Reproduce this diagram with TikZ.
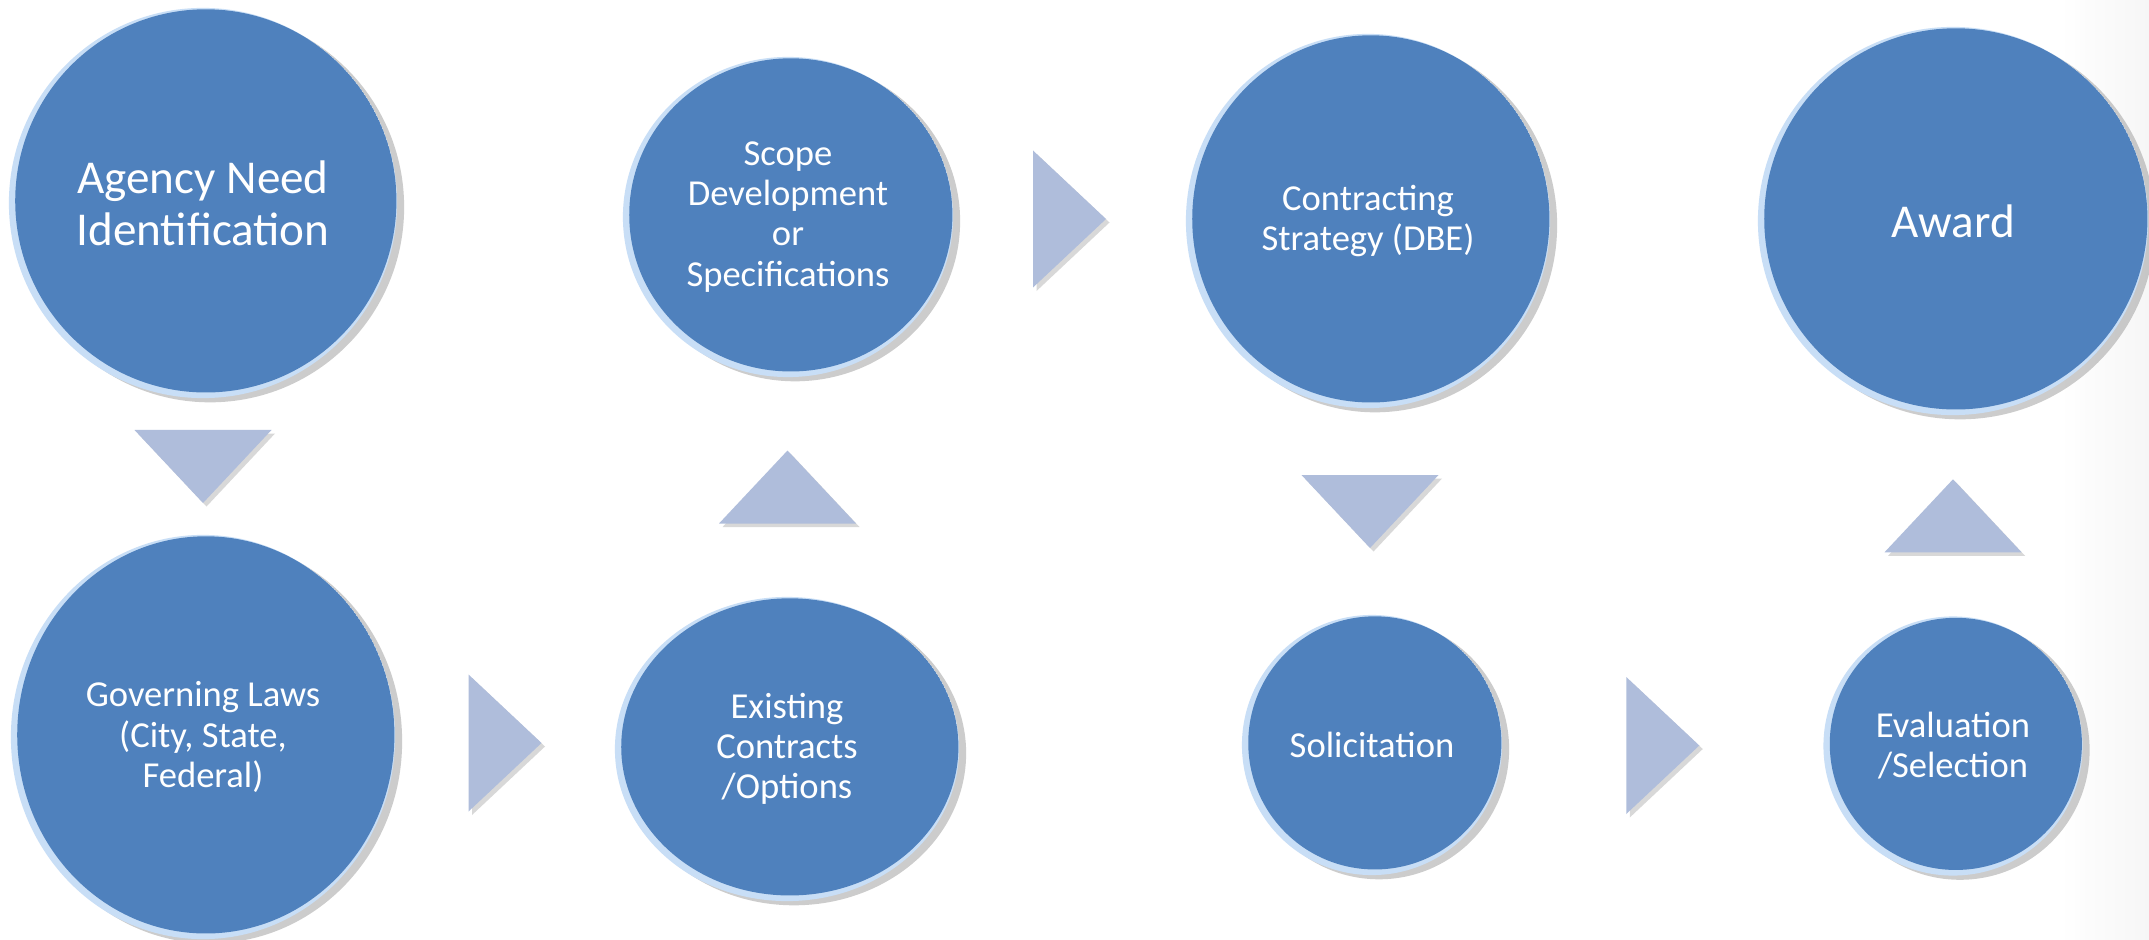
\documentclass[tikz,border=0pt]{standalone}
\usepackage{fontspec}
\setmainfont{Carlito}
\usetikzlibrary{shapes.geometric,shadows,calc}
\definecolor{stepblue}{RGB}{79,129,189}
\definecolor{rimblue}{RGB}{200,222,246}
\definecolor{arrowgray}{RGB}{175,189,219}

\tikzset{
  stage/.style={ellipse, inner sep=0pt, fill=rimblue, text=white, align=center,
    drop shadow={shadow xshift=2pt, shadow yshift=-1.2pt, opacity=.4},
    path picture={\fill[stepblue] let \p1=(path picture bounding box.south west),
      \p2=(path picture bounding box.north east) in
      ($(\p1)!.5!(\p2)+(.8pt,.6pt)$) ellipse ({(\x2-\x1)/2-1pt} and {(\y2-\y1)/2-1pt});}},
  small/.style={font=\fontsize{10.4}{11.4}\selectfont},
  big/.style={font=\fontsize{13.4}{14.8}\selectfont},
  pics/arrowtip/.style={code={
    \fill[arrowgray, drop shadow={shadow xshift=1pt, shadow yshift=-1pt, opacity=.3}]
      (-36.5,-68.5) -- (36.5,0) -- (-36.5,68.5) -- cycle;}}
}

\begin{document}
\begin{tikzpicture}[x=0.01cm,y=-0.01cm]
\useasboundingbox (0,0) rectangle (2149,940);
\fill[white] (0,0) rectangle (2149,940);
\shade[left color=white, right color=gray!7] (2060,0) rectangle (2149,940);

% stages
\node[stage, big, minimum width=3.88cm, minimum height=3.90cm] (agency) at (203,203) {Agency Need\\Identification};
\node[stage, small, minimum width=3.84cm, minimum height=4.04cm] (laws) at (203,737) {Governing Laws\\(City, State,\\Federal)};
\node[stage, small, minimum width=3.44cm, minimum height=3.04cm] (existing) at (787,749) {Existing\\Contracts\\/Options};
\node[stage, small, minimum width=3.30cm, minimum height=3.20cm] (scope) at (788,217) {Scope\\Development\\or\\Specifications};
\node[stage, small, minimum width=3.64cm, minimum height=3.74cm] (strategy) at (1368,221) {Contracting\\Strategy (DBE)};
\node[stage, small, minimum size=2.60cm] (solicit) at (1372,745) {Solicitation};
\node[stage, small, minimum size=2.59cm] (evaluate) at (1953,746) {Evaluation\\/Selection};
\node[stage, big, minimum width=3.90cm, minimum height=3.88cm] (award) at (1953,221) {Award};

% arrows between stages
\pic[rotate=-90] at ($(agency.south)!.5!(laws.north)$) {arrowtip};
\pic at ($(laws.east)!.5!(existing.west)$) {arrowtip};
\pic[rotate=90] at ($(existing.north)!.5!(scope.south)$) {arrowtip};
\pic at ($(scope.east)!.5!(strategy.west)$) {arrowtip};
\pic[rotate=-90] at ($(strategy.south)!.5!(solicit.north)$) {arrowtip};
\pic at ($(solicit.east)!.5!(evaluate.west)$) {arrowtip};
\pic[rotate=90] at ($(evaluate.north)!.5!(award.south)$) {arrowtip};
\end{tikzpicture}
\end{document}
